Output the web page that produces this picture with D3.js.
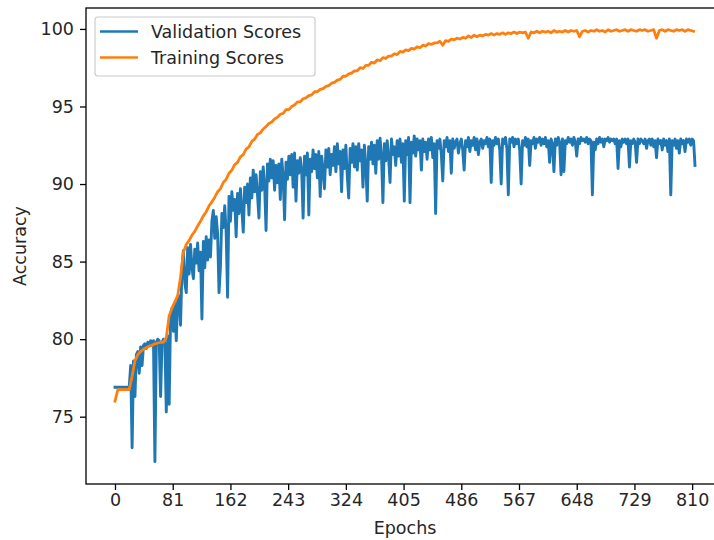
<!DOCTYPE html>
<html>
<head>
<meta charset="utf-8">
<script src="https://cdn.jsdelivr.net/npm/d3@7"></script>
<style>
  body { margin: 0; background: #fff; }
  text { font-family: "DejaVu Sans", sans-serif; fill: #262626; }
</style>
</head>
<body>
<div id="wrapper"></div>
<script>
// Data: validation sampled every 2 epochs, training every 4 epochs
const valStep = 2
const trainStep = 4
const xTicks = [0, 81, 162, 243, 324, 405, 486, 567, 648, 729, 810]
const yTicks = [75, 80, 85, 90, 95, 100]
const seriesNames = ["Validation Scores", "Training Scores"]

const validation = [
  76.9, 76.9, 76.9, 76.9, 76.9, 76.9, 76.9, 76.9, 76.9, 76.9,
  76.9, 78.3, 73.0, 78.6, 76.3, 79.0, 79.2, 77.8, 79.5, 78.3,
  79.6, 79.7, 79.4, 79.8, 79.6, 79.9, 79.7, 79.9, 72.1, 79.8,
  80.0, 79.9, 76.3, 79.8, 80.0, 79.7, 75.3, 80.2, 75.8, 81.5,
  82.0, 80.5, 82.3, 79.9, 82.6, 82.8, 80.9, 84.6, 85.7, 83.6,
  83.0, 85.9, 84.2, 86.1, 84.6, 83.9, 85.8, 84.9, 86.2, 84.4,
  85.6, 81.3, 86.3, 84.6, 86.6, 85.1, 86.4, 85.3, 87.6, 88.3,
  86.5, 87.9, 86.8, 83.0, 84.7, 88.1, 87.2, 88.6, 86.9, 82.7,
  89.2, 87.6, 89.5, 88.3, 89.0, 86.6, 89.4, 88.1, 89.7, 88.4,
  86.9, 89.8, 88.8, 90.0, 88.0, 90.4, 89.1, 90.9, 89.5, 90.6,
  89.3, 87.8, 90.8, 89.6, 91.1, 89.9, 87.0, 91.3, 90.2, 91.6,
  90.4, 91.5, 89.6, 91.2, 90.1, 91.3, 89.0, 91.6, 90.5, 87.7,
  91.4, 90.3, 91.8, 90.6, 91.9, 89.8, 92.0, 88.9, 91.5, 90.7,
  91.7, 90.9, 87.8, 91.8, 90.6, 92.0, 88.0, 91.6, 90.8, 92.2,
  91.0, 91.9, 90.4, 92.1, 89.2, 91.8, 90.9, 89.7, 92.2, 91.1,
  92.3, 90.6, 91.9, 91.2, 92.4, 90.8, 92.6, 91.3, 92.1, 89.5,
  92.2, 91.0, 92.5, 90.5, 89.1, 92.3, 91.4, 92.6, 91.1, 92.4,
  90.9, 92.6, 91.5, 92.2, 89.8, 92.5, 91.2, 88.9, 92.4, 91.6,
  92.7, 91.3, 92.5, 90.7, 92.8, 91.6, 92.95, 91.8, 88.8, 92.6,
  91.5, 92.8, 91.7, 90.1, 92.9, 91.9, 92.4, 91.2, 92.8, 91.8,
  92.9, 91.4, 92.6, 88.9, 92.8, 91.9, 93.0, 88.8, 92.7, 92.0,
  93.1, 91.8, 92.9, 92.2, 92.8, 90.9, 92.9, 92.1, 92.7, 91.6,
  92.9, 92.2, 93.0, 91.7, 92.6, 88.1, 92.8, 92.3, 92.9, 91.9,
  90.2, 92.8, 92.4, 93.0, 92.1, 92.8, 90.7, 92.9, 92.3, 92.7,
  92.9, 92.0, 92.6, 92.9, 92.2, 90.9, 92.8, 92.4, 93.0, 92.1,
  92.8, 92.5, 93.0, 92.2, 92.9, 91.9, 92.7, 92.9, 92.3, 92.8,
  92.6, 93.0, 92.4, 92.9, 90.1, 92.8, 92.5, 93.0, 92.6, 92.9,
  92.2, 90.0, 92.9, 92.6, 93.0, 92.3, 89.3, 92.9, 92.7, 93.0,
  92.4, 92.9, 92.6, 92.9, 92.2, 90.0, 92.8, 92.5, 93.0, 92.4,
  92.9, 91.2, 92.8, 92.6, 93.0, 92.3, 92.9, 92.7, 93.0, 92.5,
  92.9, 92.6, 93.0, 92.4, 92.8, 91.4, 92.9, 92.6, 90.8, 92.9,
  92.5, 93.0, 92.7, 90.6, 92.9, 90.8, 92.8, 92.6, 93.0, 92.7,
  92.9, 92.5, 93.0, 92.7, 91.8, 92.9, 92.6, 93.0, 92.8, 92.9,
  92.7, 93.0, 92.6, 92.9, 92.8, 89.3, 92.7, 92.2, 92.9, 92.6,
  93.0, 92.7, 92.9, 92.4, 92.9, 92.8, 93.0, 92.7, 92.9, 92.8,
  92.9, 92.6, 92.9, 91.0, 92.8, 92.4, 92.9, 92.7, 92.9, 92.6,
  92.9, 91.1, 92.8, 92.6, 92.9, 92.7, 91.4, 92.9, 92.6, 92.9,
  92.8, 92.6, 92.9, 92.3, 92.8, 92.9, 92.5, 92.9, 92.4, 92.8,
  91.7, 92.9, 92.6, 92.8, 92.2, 92.9, 92.5, 92.8, 92.1, 92.9,
  89.3, 92.8, 92.5, 92.9, 92.3, 92.8, 92.0, 92.9, 92.6, 92.8,
  92.1, 92.9, 92.7, 92.9, 92.5, 92.9, 92.8, 91.2
]

const training = [
  76.0, 76.75, 76.75, 76.75, 76.75, 76.75, 77.6, 78.6, 79.0, 79.2,
  79.35, 79.45, 79.55, 79.6, 79.7, 79.75, 79.8, 79.8, 80.1, 81.5,
  82.0, 82.4, 82.8, 84.0, 85.6, 86.1, 86.35, 86.7, 86.95, 87.3,
  87.6, 87.95, 88.2, 88.6, 88.85, 89.15, 89.5, 89.7, 90.1, 90.3,
  90.7, 90.9, 91.25, 91.4, 91.75, 91.9, 92.25, 92.4, 92.75, 92.9,
  93.2, 93.3, 93.55, 93.7, 93.9, 94.0, 94.2, 94.3, 94.5, 94.55,
  94.8, 94.8, 95.0, 95.1, 95.3, 95.3, 95.5, 95.55, 95.7, 95.75,
  95.95, 95.95, 96.1, 96.15, 96.3, 96.35, 96.5, 96.55, 96.7, 96.75,
  96.95, 96.95, 97.1, 97.15, 97.3, 97.3, 97.5, 97.45, 97.65, 97.65,
  97.85, 97.8, 98.0, 97.95, 98.15, 98.1, 98.25, 98.25, 98.4, 98.35,
  98.55, 98.5, 98.65, 98.6, 98.75, 98.7, 98.85, 98.8, 98.95, 98.9,
  99.05, 99.0, 99.1, 99.1, 99.2, 98.95, 99.25, 99.2, 99.35, 99.3,
  99.4, 99.35, 99.45, 99.4, 99.55, 99.45, 99.6, 99.5, 99.6, 99.55,
  99.65, 99.6, 99.7, 99.6, 99.7, 99.65, 99.75, 99.65, 99.75, 99.7,
  99.8, 99.7, 99.8, 99.75, 99.8, 99.4, 99.8, 99.75, 99.85, 99.75,
  99.85, 99.8, 99.85, 99.75, 99.9, 99.8, 99.85, 99.8, 99.9, 99.8,
  99.9, 99.85, 99.9, 99.5, 99.85, 99.9, 99.8, 99.9, 99.85, 99.95,
  99.85, 99.9, 99.8, 99.95, 99.85, 99.9, 99.95, 99.85, 99.9, 99.95,
  99.85, 99.95, 99.9, 99.85, 99.95, 99.9, 99.95, 99.85, 99.9, 99.95,
  99.4, 99.9, 99.95, 99.85, 99.95, 99.9, 99.85, 99.95, 99.9, 99.95,
  99.85, 99.95, 99.9, 99.85
]

const blue = "#1f77b4"
const orange = "#ff7f0e"

// Chart dimensions (right spine falls just outside the picture)
const dimensions = {
  width: 714,
  height: 540,
  left: 86,
  top: 8,
  right: 724,
  bottom: 484,
}

const svg = d3.select("#wrapper")
  .append("svg")
    .attr("width", dimensions.width)
    .attr("height", dimensions.height)

const xScale = d3.scaleLinear()
  .domain([-40.7, 854.7])
  .range([dimensions.left, dimensions.right])

const yScale = d3.scaleLinear()
  .domain([70.66, 101.35])
  .range([dimensions.bottom, dimensions.top])

svg.append("clipPath")
    .attr("id", "clip")
  .append("rect")
    .attr("x", dimensions.left)
    .attr("y", dimensions.top)
    .attr("width", dimensions.right - dimensions.left)
    .attr("height", dimensions.bottom - dimensions.top)

// Lines
const lineFor = step => d3.line()
  .x((d, i) => xScale(i * step))
  .y(d => yScale(d))

const plot = svg.append("g").attr("clip-path", "url(#clip)")
plot.append("path")
  .attr("d", lineFor(valStep)(validation))
  .attr("fill", "none")
  .attr("stroke", blue)
  .attr("stroke-width", 2.9)
  .attr("stroke-linejoin", "round")
  .attr("stroke-linecap", "square")
plot.append("path")
  .attr("d", lineFor(trainStep)(training))
  .attr("fill", "none")
  .attr("stroke", orange)
  .attr("stroke-width", 2.8)
  .attr("stroke-linejoin", "round")
  .attr("stroke-linecap", "square")

// Axes
const xAxis = d3.axisBottom(xScale)
  .tickValues(xTicks)
  .tickSizeInner(6)
  .tickSizeOuter(0)
  .tickPadding(4)
const yAxis = d3.axisLeft(yScale)
  .tickValues(yTicks)
  .tickSizeInner(6)
  .tickSizeOuter(0)
  .tickPadding(6)

const gx = svg.append("g")
  .attr("transform", `translate(0,${dimensions.bottom})`)
  .call(xAxis)
const gy = svg.append("g")
  .attr("transform", `translate(${dimensions.left},0)`)
  .call(yAxis)

for (const g of [gx, gy]) {
  g.select(".domain").remove()
  g.selectAll(".tick line").attr("stroke", "#000").attr("stroke-width", 1.3)
  g.selectAll(".tick text")
    .attr("font-family", "DejaVu Sans, sans-serif")
    .attr("font-size", 17.5)
    .attr("fill", "#262626")
}

// Spines
svg.append("rect")
  .attr("x", dimensions.left)
  .attr("y", dimensions.top)
  .attr("width", dimensions.right - dimensions.left)
  .attr("height", dimensions.bottom - dimensions.top)
  .attr("fill", "none")
  .attr("stroke", "#000")
  .attr("stroke-width", 1.3)

// Axis labels
svg.append("text")
  .attr("x", (dimensions.left + dimensions.right) / 2)
  .attr("y", 534)
  .attr("text-anchor", "middle")
  .attr("font-size", 17.5)
  .text("Epochs")

svg.append("text")
  .attr("transform", `translate(26,${(dimensions.top + dimensions.bottom) / 2}) rotate(-90)`)
  .attr("text-anchor", "middle")
  .attr("font-size", 17.5)
  .text("Accuracy")

// Legend
const legend = svg.append("g")
legend.append("rect")
  .attr("x", 95)
  .attr("y", 17)
  .attr("width", 220)
  .attr("height", 59)
  .attr("rx", 3)
  .attr("fill", "#fff")
  .attr("fill-opacity", 0.8)
  .attr("stroke", "#cccccc")
  .attr("stroke-width", 1.2)

const colors = [blue, orange]
seriesNames.forEach((name, i) => {
  const y = 31.5 + i * 26
  legend.append("line")
    .attr("x1", 100).attr("x2", 138)
    .attr("y1", y).attr("y2", y)
    .attr("stroke", colors[i])
    .attr("stroke-width", 2.6)
  legend.append("text")
    .attr("x", 151)
    .attr("y", y + 6.3)
    .attr("font-size", 17.5)
    .text(name)
})
</script>
</body>
</html>
